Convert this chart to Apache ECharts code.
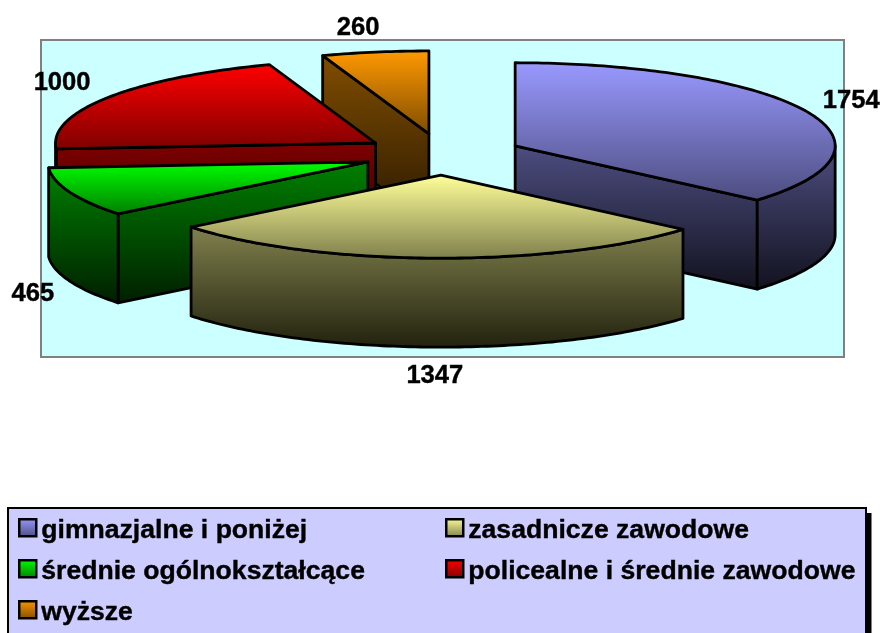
<!DOCTYPE html>
<html>
<head>
<meta charset="utf-8">
<style>html,body{margin:0;padding:0;background:#fff}#c{width:882px;height:633px}</style>
<script src="https://cdn.jsdelivr.net/npm/echarts@6/dist/echarts.min.js"></script>
</head>
<body>
<div id="c"></div>
<script>
// ---- data ----
const categories = ['gimnazjalne i poniżej', 'zasadnicze zawodowe', 'średnie ogólnokształcące', 'policealne i średnie zawodowe', 'wyższe'];
const values = [1754, 1347, 465, 1000, 260];

// ---- styles and layout ----
const topColors  = ['#9999FF', '#FFFF99', '#00FF00', '#FF0000', '#FF9900'];
const midColors  = ['#4D4D80', '#80804D', '#008000', '#800000', '#804D00'];
const lowColors  = ['#12121f', '#22220f', '#001f00', '#2a0000', '#2a1900'];
const drawOrder  = [4, 3, 2, 0, 1];
const labelShift = [[45, -10], [0, 118], [-37, 102], [-46, -14], [-17, -24]];
const legendSpot = [[18, 517], [445, 517], [18, 558], [445, 558], [18, 599]];
const FONT = '"Liberation Sans", Arial, sans-serif';
const LABEL_SIZE = 25.6, LEGEND_SIZE = 26.6;
const C = {x: 442.4, y: 154.4}, RX = 320, RY = 83, DEPTH = 89, EXPLODE = 0.25;

const total = values.reduce((a, b) => a + b, 0);
const starts = values.map((_, i) => values.slice(0, i).reduce((a, b) => a + b, 0) / total * 360);
const rad = d => d * Math.PI / 180;
const grad = (y0, y1, c0, c1) => new echarts.graphic.LinearGradient(0, y0, 0, y1, [{offset: 0, color: c0}, {offset: 1, color: c1}], true);
const line = {stroke: '#000', lineWidth: 2.8, lineJoin: 'round'};

function renderSlice(i) {
  const a0 = starts[i], a1 = a0 + values[i] / total * 360, mid = (a0 + a1) / 2;
  const ax = C.x + EXPLODE * RX * Math.sin(rad(mid));
  const ay = C.y - EXPLODE * RY * Math.cos(rad(mid));
  const rim = a => [ax + RX * Math.sin(rad(a)), ay - RY * Math.cos(rad(a))];
  const arc = (from, to) => {
    const pts = [], n = Math.max(2, Math.ceil(Math.abs(to - from)));
    for (let k = 0; k <= n; k++) pts.push(rim(from + (to - from) * k / n));
    return pts;
  };
  const down = p => [p[0], p[1] + DEPTH];
  const children = [];
  const top = [[ax, ay]].concat(arc(a0, a1));
  const ys = top.map(p => p[1]);
  const yMin = Math.min(...ys), yMax = Math.max(...ys);
  const cut = a => {
    const e = rim(a);
    children.push({type: 'polygon', shape: {points: [[ax, ay], e, down(e), down([ax, ay])]},
      style: Object.assign({fill: grad(Math.min(ay, e[1]), Math.max(ay, e[1]) + DEPTH, midColors[i], lowColors[i])}, line)});
  };
  if (a0 > 180 && a0 < 360) cut(a0);
  if (a1 > 0 && a1 < 180) cut(a1);
  const w0 = Math.max(a0, 90), w1 = Math.min(a1, 270);
  if (w1 > w0) {
    const edge = arc(w0, w1);
    const wy = edge.map(p => p[1]);
    children.push({type: 'polygon', shape: {points: edge.concat(edge.slice().reverse().map(down))},
      style: Object.assign({fill: grad(Math.min(...wy), Math.max(...wy) + DEPTH, midColors[i], lowColors[i])}, line)});
  }
  children.push({type: 'polygon', shape: {points: top},
    style: Object.assign({fill: grad(yMin, yMax, topColors[i], midColors[i])}, line)});
  const m = rim(mid);
  children.push({type: 'text', z2: 50, style: {text: String(values[i]), x: m[0] + labelShift[i][0], y: m[1] + labelShift[i][1],
    align: 'center', verticalAlign: 'middle', fontFamily: FONT, fontWeight: 'bold', fontSize: LABEL_SIZE, fill: '#000', stroke: '#000', lineWidth: 0.4}});
  return {type: 'group', children};
}

const chart = echarts.init(document.getElementById('c'), null, {renderer: 'canvas'});
chart.setOption({
  animation: false,
  backgroundColor: '#fff',
  graphic: [
    {type: 'rect', z: 0, shape: {x: 41, y: 40, width: 803, height: 317}, style: {fill: '#CCFFFF', stroke: '#808080', lineWidth: 2}},
    {type: 'rect', z: 0, shape: {x: 11, y: 513, width: 860.5, height: 130}, style: {fill: '#000'}},
    {type: 'rect', z: 0, shape: {x: 8, y: 508, width: 858, height: 130}, style: {fill: '#CCCCFF', stroke: '#000', lineWidth: 2}}
  ],
  legend: categories.map((name, i) => ({
    left: legendSpot[i][0], top: legendSpot[i][1], padding: 0, z: 5,
    selectedMode: false, icon: 'rect', itemWidth: 17, itemHeight: 17, itemGap: 7,
    data: [{name, itemStyle: {color: new echarts.graphic.LinearGradient(0, 0, 0, 1, [{offset: 0, color: topColors[i]}, {offset: 1, color: midColors[i]}]), borderColor: '#000', borderWidth: 2.5}}],
    formatter: '{t|{name}}',
    textStyle: {fontFamily: FONT, fontWeight: 'bold', fontSize: LEGEND_SIZE, color: '#000',
      rich: {t: {fontFamily: FONT, fontWeight: 'bold', fontSize: LEGEND_SIZE, color: '#000', padding: [6, 0, 0, 0], textBorderColor: '#000', textBorderWidth: 0.4}}}
  })),
  series: drawOrder.map((i, order) => ({
    type: 'custom', coordinateSystem: 'none', name: categories[i], z: 2 + order, silent: true,
    data: [[values[i]]],
    renderItem: () => renderSlice(i)
  }))
});
</script>
</body>
</html>
